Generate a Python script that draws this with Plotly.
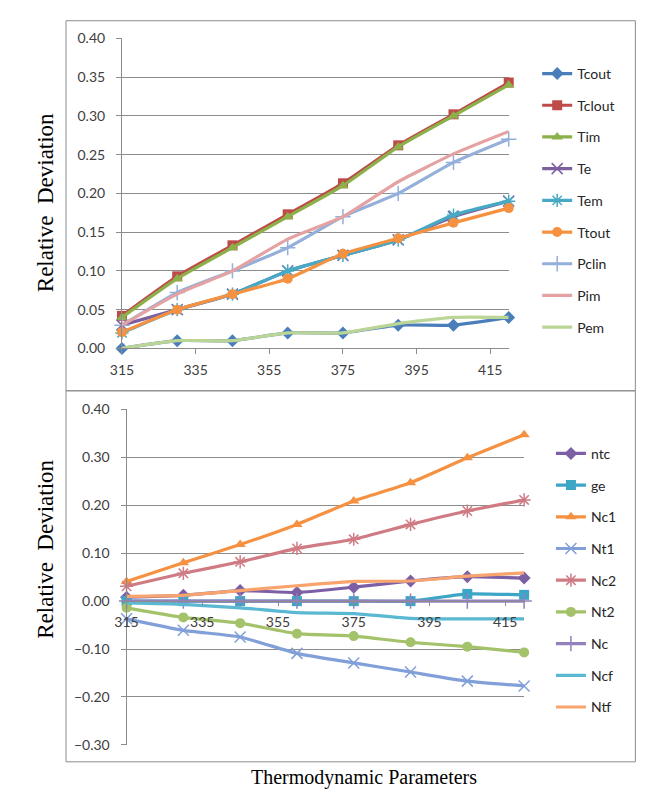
import plotly.graph_objects as go

W, H = 654, 808

# ---------------- data ----------------
x_vals = [315, 330, 345, 360, 375, 390, 405, 420]
x_ticks = [315, 335, 355, 375, 395, 415]

# top panel
tcout = [0.00, 0.01, 0.01, 0.02, 0.02, 0.03, 0.03, 0.04]
tclout = [0.042, 0.093, 0.133, 0.173, 0.213, 0.262, 0.302, 0.343]
tim = [0.040, 0.090, 0.130, 0.170, 0.210, 0.260, 0.300, 0.340]
te = [0.030, 0.050, 0.070, 0.100, 0.120, 0.140, 0.170, 0.190]
tem = [0.020, 0.050, 0.070, 0.100, 0.120, 0.140, 0.172, 0.190]
ttout = [0.021, 0.050, 0.070, 0.090, 0.122, 0.142, 0.162, 0.181]
pclin = [0.030, 0.072, 0.100, 0.130, 0.170, 0.200, 0.240, 0.270]
pim = [0.030, 0.070, 0.100, 0.141, 0.170, 0.215, 0.251, 0.280]
pem = [0.000, 0.010, 0.010, 0.020, 0.020, 0.032, 0.040, 0.040]

# bottom panel
ntc = [0.008, 0.012, 0.022, 0.018, 0.029, 0.042, 0.051, 0.048]
ge = [0.000, 0.000, 0.000, 0.000, 0.000, 0.000, 0.015, 0.013]
nc1 = [0.041, 0.080, 0.118, 0.160, 0.209, 0.247, 0.299, 0.347]
nt1 = [-0.037, -0.061, -0.075, -0.109, -0.129, -0.148, -0.167, -0.177]
nc2 = [0.031, 0.058, 0.082, 0.110, 0.129, 0.160, 0.188, 0.211]
nt2 = [-0.014, -0.034, -0.046, -0.068, -0.073, -0.086, -0.095, -0.107]
nc = [0.000, 0.000, 0.000, 0.000, 0.000, 0.000, 0.000, 0.000]
ncf = [-0.004, -0.007, -0.014, -0.024, -0.026, -0.036, -0.037, -0.037]
ntf = [0.010, 0.012, 0.022, 0.032, 0.041, 0.042, 0.052, 0.059]

top_series = [
    ("Tcout", tcout, "#4A7EBB", "diamond"),
    ("Tclout", tclout, "#BE4B48", "square"),
    ("Tim", tim, "#8CB04A", "triangle-up"),
    ("Te", te, "#7D60A0", "x-thin-open"),
    ("Tem", tem, "#46AAC5", "asterisk-open"),
    ("Ttout", ttout, "#F59140", "circle"),
    ("Pclin", pclin, "#93AFDA", "cross-thin-open"),
    ("Pim", pim, "#E4A3A2", None),
    ("Pem", pem, "#BBD596", None),
]
bottom_series = [
    ("ntc", ntc, "#7D5FA6", "diamond"),
    ("ge", ge, "#3DA6C6", "square"),
    ("Nc1", nc1, "#F59140", "triangle-up"),
    ("Nt1", nt1, "#819FD8", "x-thin-open"),
    ("Nc2", nc2, "#D07B84", "asterisk-open"),
    ("Nt2", nt2, "#A3C26A", "circle"),
    ("Nc", nc, "#9480BC", "cross-thin-open"),
    ("Ncf", ncf, "#5BB8D2", None),
    ("Ntf", ntf, "#F8A46E", None),
]

fig = go.Figure()


def add(series, xa, ya, leg, grp):
    for i, (name, ys, col, sym) in enumerate(series):
        kw = dict(x=x_vals, y=ys, name=name, xaxis=xa, yaxis=ya, legend=leg,
                  legendgroup=f"{grp}{i}", cliponaxis=False,
                  line=dict(color=col, width=3.2, shape="spline", smoothing=0.5))
        if sym is None:
            kw["mode"] = "lines"
        else:
            kw["mode"] = "lines+markers"
            if sym.endswith("-open"):
                kw["marker"] = dict(symbol=sym, size=11, color=col,
                                    line=dict(color=col, width=1.5))
            else:
                kw["marker"] = dict(symbol=sym, size=10, color=col,
                                    line=dict(width=0))
        fig.add_trace(go.Scatter(**kw))


add(top_series, "x", "y", "legend", "a")
add(bottom_series, "x2", "y2", "legend2", "b")

GRID = "#8C8C8C"
TICKF = dict(family="Lato", size=14, color="#404040")
LEGF = dict(family="Lato", size=14, color="#262626")


def px_x(p):
    return p / W


def px_y(p):
    return 1 - p / H


fig.update_layout(
    width=W, height=H,
    margin=dict(l=0, r=0, t=0, b=0),
    paper_bgcolor="white", plot_bgcolor="white",
    xaxis=dict(domain=[px_x(112), px_x(506)], range=[315, 420], anchor="y",
               tickvals=x_ticks, ticks="outside", ticklen=5, tickcolor=GRID,
               showline=True, linecolor=GRID, linewidth=1, showgrid=False,
               zeroline=False, tickfont=TICKF, ticklabelstandoff=4),
    yaxis=dict(domain=[px_y(346.7), px_y(30)], range=[0, 0.40], anchor="x",
               dtick=0.05, tickformat=".2f", ticks="outside", ticklen=5,
               tickcolor=GRID, showline=True, linecolor=GRID, linewidth=1,
               showgrid=True, gridcolor=GRID, gridwidth=1, zeroline=False,
               tickfont=TICKF, ticklabelstandoff=8),
    xaxis2=dict(domain=[px_x(116.7), px_x(521.7)], range=[315, 420],
                anchor="free", position=px_y(605),
                tickvals=x_ticks, ticks="outside", ticklen=4, tickcolor=GRID,
                showline=True, linecolor=GRID, linewidth=1, showgrid=False,
                zeroline=False, tickfont=TICKF, ticklabelstandoff=4),
    yaxis2=dict(domain=[px_y(751.7), px_y(409)], range=[-0.30, 0.40],
                anchor="x2", dtick=0.10, tickformat=".2f", ticks="outside",
                ticklen=5, tickcolor=GRID, showline=True, linecolor=GRID,
                linewidth=1, showgrid=True, gridcolor=GRID, gridwidth=1,
                zeroline=False, tickfont=TICKF, ticklabelstandoff=8),
    legend=dict(x=px_x(535), y=px_y(50), xanchor="left", yanchor="top",
                font=LEGF, tracegroupgap=10.5, bgcolor="rgba(0,0,0,0)"),
    legend2=dict(x=px_x(549), y=px_y(438), xanchor="left", yanchor="top",
                 font=LEGF, tracegroupgap=10.5, bgcolor="rgba(0,0,0,0)"),
    showlegend=True,
)

# panel borders
for y0, y1 in [(12, 390), (390, 769)]:
    fig.add_shape(type="rect", xref="paper", yref="paper",
                  x0=px_x(55), x1=px_x(635), y0=px_y(y1), y1=px_y(y0),
                  line=dict(color="#8C8C8C", width=1), fillcolor="rgba(0,0,0,0)",
                  layer="below")

SERIF = dict(family="Liberation Serif", size=23, color="#000000")
fig.add_annotation(text="Relative\u00a0 Deviation", x=px_x(34), y=px_y(198),
                   xref="paper", yref="paper", showarrow=False, textangle=-90,
                   font=SERIF, xanchor="center", yanchor="middle")
fig.add_annotation(text="Relative\u00a0 Deviation", x=px_x(34), y=px_y(552),
                   xref="paper", yref="paper", showarrow=False, textangle=-90,
                   font=SERIF, xanchor="center", yanchor="middle")
fig.add_annotation(text="Thermodynamic Parameters", x=px_x(359), y=px_y(785),
                   xref="paper", yref="paper", showarrow=False,
                   font=dict(family="Liberation Serif", size=20, color="#000000"),
                   xanchor="center", yanchor="middle")

fig.write_html("out.html")
